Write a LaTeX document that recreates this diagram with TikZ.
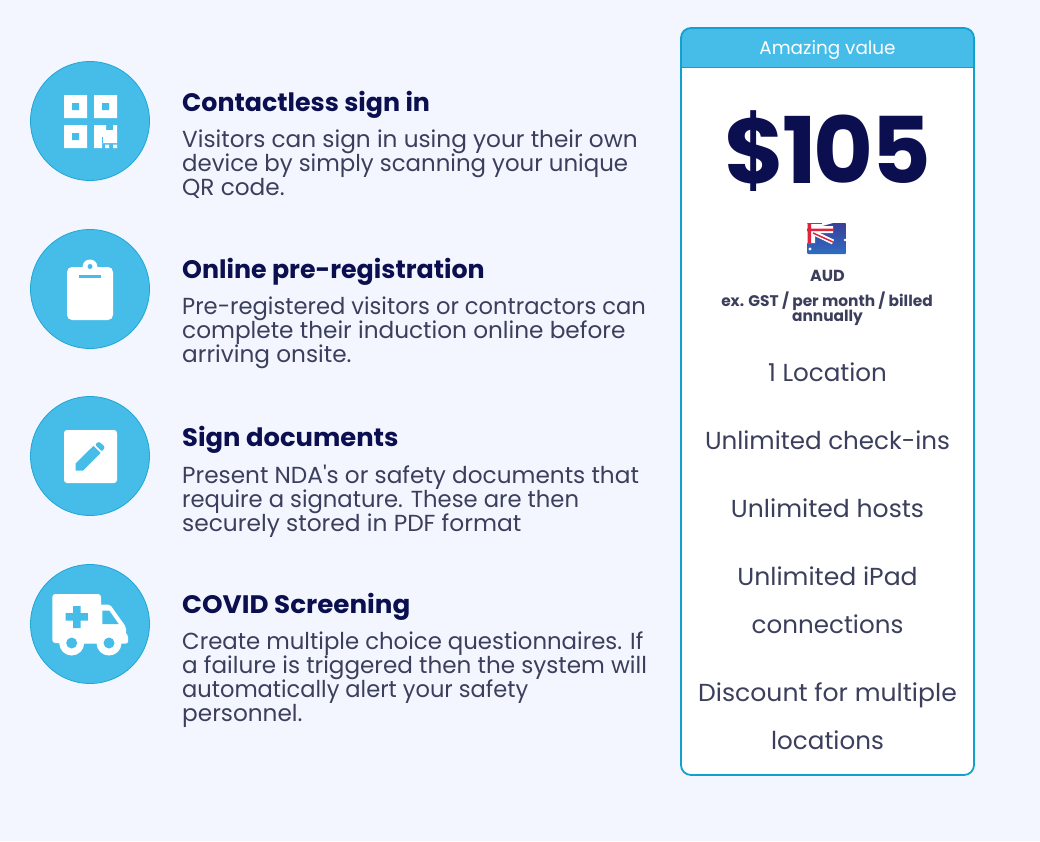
\documentclass[tikz,border=0pt]{standalone}
\usepackage{fontspec}
\setmainfont{Poppins}[Ligatures=TeXOff]
\definecolor{bgc}{HTML}{F3F6FF}
\definecolor{sky}{HTML}{46BDE9}
\definecolor{skyd}{HTML}{1FA6D4}
\definecolor{cardb}{HTML}{12A0CC}
\definecolor{navy}{HTML}{0B0F4F}
\definecolor{ink}{HTML}{3B3F5C}
\definecolor{flagb}{HTML}{3A3F9A}
\definecolor{flagc}{HTML}{2E6CC0}
\definecolor{flagr}{HTML}{E0233A}
\newcommand{\hs}[2]{\scalebox{#1}[1]{#2}}
\tikzset{
  disc/.style={circle,draw=skyd,line width=.8pt,fill=sky,minimum size=119pt,inner sep=0pt},
  title/.style={anchor=base west,inner sep=0pt,text=navy,font=\fontsize{25.3}{24}\selectfont\bfseries},
  body/.style={anchor=north west,inner sep=0pt,align=left,text=ink,font=\fontsize{23.2}{24}\selectfont},
  feat/.style={anchor=base,inner sep=0pt,text=ink,align=center,font=\fontsize{24.6}{48}\selectfont},
  small/.style={anchor=base,inner sep=0pt,text=ink,font=\fontsize{15.4}{15}\selectfont\bfseries},
  wht/.style={fill=white,draw=none},
  ico/.style={fill=sky,draw=none}
}
\begin{document}
\begin{tikzpicture}[x=1pt,y=-1pt]
\useasboundingbox (0,0) rectangle (1040,841);
\fill[bgc] (0,0) rectangle (1040,841);

% discs
\node[disc] (d1) at (90,121) {};
\node[disc] (d2) at (90,289) {};
\node[disc] (d3) at (90,456) {};
\node[disc] (d4) at (90,624) {};

% QR icon
\fill[wht] (64,95) rectangle (87,118) (94,95) rectangle (117,118) (64,125) rectangle (87,148);
\fill[ico] (72,103) rectangle (79,110) (102,103) rectangle (109,110) (72,133) rectangle (79,140);
\fill[wht] (94,125) rectangle (102,148) (102,125) rectangle (106,143) (106,130) rectangle (117,143) (113,125) rectangle (117,130);
\fill[wht] (105,144.5) rectangle (109,148) (113,144.5) rectangle (117,148);
\fill[ico] (102,137) rectangle (103,143);

% clipboard icon
\fill[wht] (90,267) circle (7.5);
\fill[wht,rounded corners=5pt] (67,267) rectangle (113,320);
\fill[ico] (90,266.5) circle (2.5);
\fill[ico] (79,275) rectangle (101,278);

% document icon
\fill[wht,rounded corners=3pt] (64,430) rectangle (117,483);
\fill[ico] (75.7,463.3) -- (93.5,445.8) -- (100.5,453) -- (83,470.7) -- (75.7,470.7) -- cycle;
\fill[ico,rounded corners=1.2pt] (95,444.5) -- (99,441.5) -- (105,447) -- (102,451.5) -- cycle;

% ambulance icon
\fill[wht,rounded corners=3pt] (52.3,594) rectangle (101,643);
\fill[wht,rounded corners=2pt] (95,604.5) -- (110,604.5) -- (126,627) -- (126,635) -- (128,635) -- (128,643.5) -- (60,643.5) -- (95,620) -- cycle;
\fill[wht] (71.7,643) circle (12.5) (109,643) circle (12.5);
\fill[ico] (71.7,643) circle (5.5) (109,643) circle (5.5);
\fill[ico] (73,606) rectangle (80.5,628) (65.7,613) rectangle (87.8,620.5);
\fill[ico] (102.3,610.7) -- (109.3,610.7) -- (118.7,624) -- (102.3,624) -- cycle;

% left texts
\node[title] (t1) at (182,111) {Contactless sign in};
\node[body]  (b1) at (182,130) {Visitors can sign in using your their own\\\hs{.985}{device by simply scanning your unique}\\QR code.};
\node[title] (t2) at (182,278) {Online pre-registration};
\node[body]  (b2) at (182,297) {\hs{.975}{Pre-registered visitors or contractors can}\\complete their induction online before\\arriving onsite.};
\node[title] (t3) at (182,446) {\hs{1.02}{Sign documents}};
\node[body]  (b3) at (182,465) {Present NDA's or safety documents that\\\hs{.978}{require a signature. These are then}\\\hs{1.005}{securely stored in PDF format}};
\node[title] (t4) at (182,613) {\hs{1.035}{COVID Screening}};
\node[body]  (b4) at (182,632) {\hs{.983}{Create multiple choice questionnaires. If}\\\hs{.995}{a failure is triggered then the system will}\\\hs{.972}{automatically alert your safety}\\personnel.};

% card
\fill[white,rounded corners=10pt] (681,28) rectangle (974,775);
\begin{scope}
\clip[rounded corners=10pt] (681,28) rectangle (974,775);
\fill[sky] (681,28) rectangle (974,67);
\end{scope}
\draw[cardb,line width=1.8pt,rounded corners=10pt] (681,28) rectangle (974,775);
\draw[cardb,line width=1.5pt] (681,67.5) -- (974,67.5);

\node[anchor=base,inner sep=0pt,text=white,font=\fontsize{18.4}{20}\selectfont] (hd) at (827.5,54) {Amazing value};
\node[anchor=base,inner sep=0pt,text=navy,font=\fontsize{92}{94}\selectfont\bfseries\addfontfeatures{LetterSpace=-3}] (pr) at (827.5,183) {\$105};

% flag
\begin{scope}
\clip[rounded corners=1pt] (807,223) rectangle (846,254);
\shade[top color=flagb,middle color=flagb,bottom color=flagc] (807,223) rectangle (846,254);
\fill[white] (807,226) rectangle (833,233) (807,223) rectangle (815,243);
\fill[white] (807,223) -- (833,223) -- (815,228) -- cycle;
\draw[white,line width=5pt] (812,232) -- (833,242);
\fill[flagr] (807,228.7) rectangle (833,231.2) (807.5,223) rectangle (811,243);
\fill[flagr] (807,223) rectangle (822,224.2);
\draw[flagr,line width=1.5pt] (813,233) -- (833,242);
\fill[white] (810,249) circle (1.6) (845,240) circle (1.3);
\end{scope}

\node[anchor=base,inner sep=0pt,text=ink,font=\fontsize{16}{16}\selectfont\bfseries] (au) at (827.5,281) {AUD};
\node[small] (ex1) at (827,306) {ex. GST / per month / billed};
\node[small] (ex2) at (827.5,321) {annually};

\node[feat] (f1) at (827.5,381) {1 Location};
\node[feat] (f2) at (827.5,449) {Unlimited check-ins};
\node[feat] (f3) at (827.5,517) {\hs{1.02}{Unlimited hosts}};
\node[feat] (f4) at (827.5,585) {\hs{1.02}{Unlimited iPad}};
\node[feat] (f5) at (827.5,633) {connections};
\node[feat] (f6) at (827.5,701) {\hs{1.02}{Discount for multiple}};
\node[feat] (f7) at (827.5,749) {locations};
\end{tikzpicture}
\end{document}
